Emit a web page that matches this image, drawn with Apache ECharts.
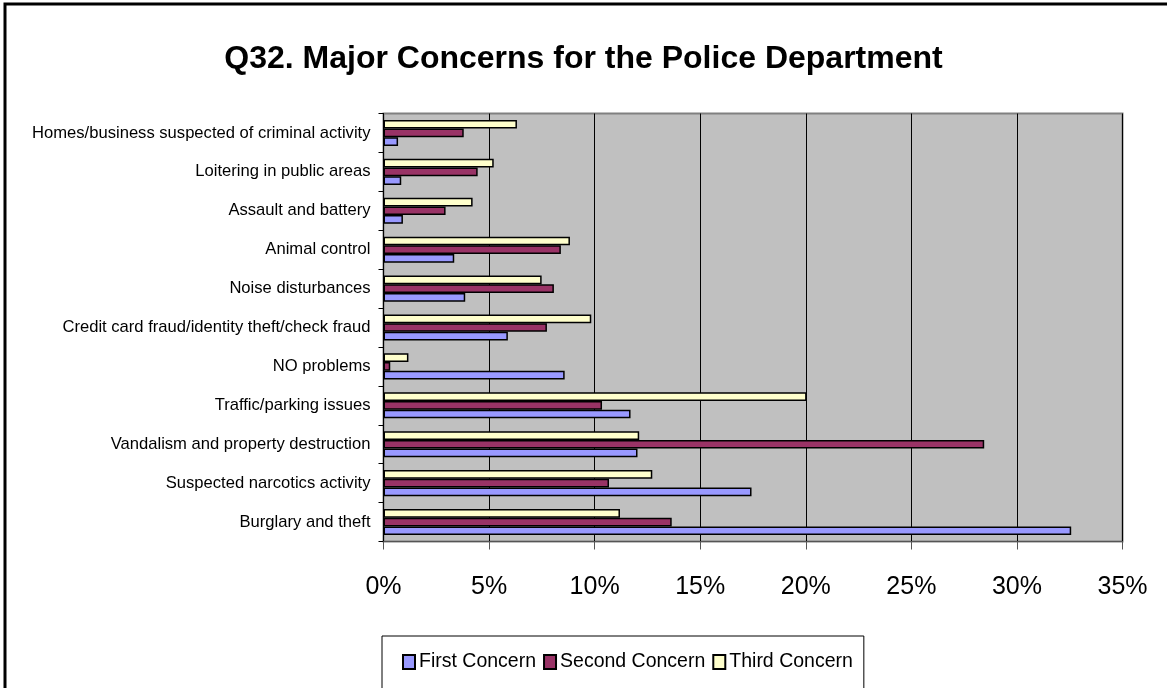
<!DOCTYPE html>
<html>
<head>
<meta charset="utf-8">
<script src="https://cdn.jsdelivr.net/npm/echarts@6/dist/echarts.min.js"></script>
<style>
  html, body { margin: 0; padding: 0; background: #fff; }
  #chart { width: 1167px; height: 688px; }
</style>
</head>
<body>
<div id="chart"></div>
<script>
// categories, bottom to top
var categories = [
  'Burglary and theft',
  'Suspected narcotics activity',
  'Vandalism and property destruction',
  'Traffic/parking issues',
  'NO problems',
  'Credit card fraud/identity theft/check fraud',
  'Noise disturbances',
  'Animal control',
  'Assault and battery',
  'Loitering in public areas',
  'Homes/business suspected of criminal activity'
];
var firstConcern  = [32.57, 17.43, 12.03, 11.70, 8.58, 5.89, 3.87, 3.35, 0.92, 0.84, 0.69];
var secondConcern = [13.65, 10.68, 28.45, 10.35, 0.32, 7.74, 8.07, 8.40, 2.94, 4.46, 3.80];
var thirdConcern  = [11.20, 12.73, 12.11, 20.04, 1.18, 9.84, 7.49, 8.83, 4.22, 5.22, 6.32];
var seriesNames = ['First Concern', 'Second Concern', 'Third Concern'];

var chart = echarts.init(document.getElementById('chart'));

var option = {
  animation: false,
  textStyle: { fontFamily: 'Liberation Sans, Arial, sans-serif' },
  title: {
    text: 'Q32. Major Concerns for the Police Department',
    left: 'center',
    top: 38,
    textStyle: { fontSize: 32, fontWeight: 'bold', color: '#000', fontFamily: 'Liberation Sans, Arial' }
  },
  graphic: [
    {
      type: 'rect',
      shape: { x: 5, y: 4, width: 1175, height: 700 },
      style: { fill: 'none', stroke: '#000', lineWidth: 3 },
      silent: true
    }
  ],
  legend: {
    data: seriesNames,
    left: 382,
    top: 636,
    padding: [16, 11, 20, 20],
    itemWidth: 12,
    itemHeight: 14,
    itemGap: 7,
    borderColor: '#000',
    borderWidth: 1,
    icon: 'rect',
    textStyle: { fontSize: 19.5, color: '#000', padding: [0, 0, 0, -1] }
  },
  grid: {
    left: 383.5,
    right: 44.5,
    top: 113.5,
    bottom: 146.5,
    show: true,
    backgroundColor: '#c0c0c0',
    borderColor: '#808080',
    borderWidth: 2,
    containLabel: false,
    outerBoundsMode: 'none'
  },
  xAxis: {
    type: 'value',
    min: 0,
    max: 35,
    interval: 5,
    axisLine: { show: true, lineStyle: { color: '#555', width: 1 } },
    axisTick: { show: true, length: 8, lineStyle: { color: '#555' } },
    axisLabel: { formatter: '{value}%', fontSize: 25, color: '#000', margin: 33 },
    splitLine: { show: true, lineStyle: { color: '#000', width: 1 } }
  },
  yAxis: {
    type: 'category',
    data: categories,
    axisLine: { show: true, lineStyle: { color: '#000', width: 1 } },
    axisTick: { show: true, length: 5, lineStyle: { color: '#000' } },
    axisLabel: { fontSize: 16.6, color: '#000', margin: 13 },
    splitLine: { show: false }
  },
  // drawn third-first so the first concern sits at the bottom of each group
  series: [
    {
      name: seriesNames[2],
      type: 'bar',
      data: thirdConcern,
      barGap: '0%',
      barCategoryGap: '33%',
      itemStyle: { color: '#ffffcc', borderColor: '#000', borderWidth: 1.5 }
    },
    {
      name: seriesNames[1],
      type: 'bar',
      data: secondConcern,
      itemStyle: { color: '#993366', borderColor: '#000', borderWidth: 1.5 }
    },
    {
      name: seriesNames[0],
      type: 'bar',
      data: firstConcern,
      itemStyle: { color: '#9999ff', borderColor: '#000', borderWidth: 1.5 }
    }
  ]
};

chart.setOption(option);
</script>
</body>
</html>
